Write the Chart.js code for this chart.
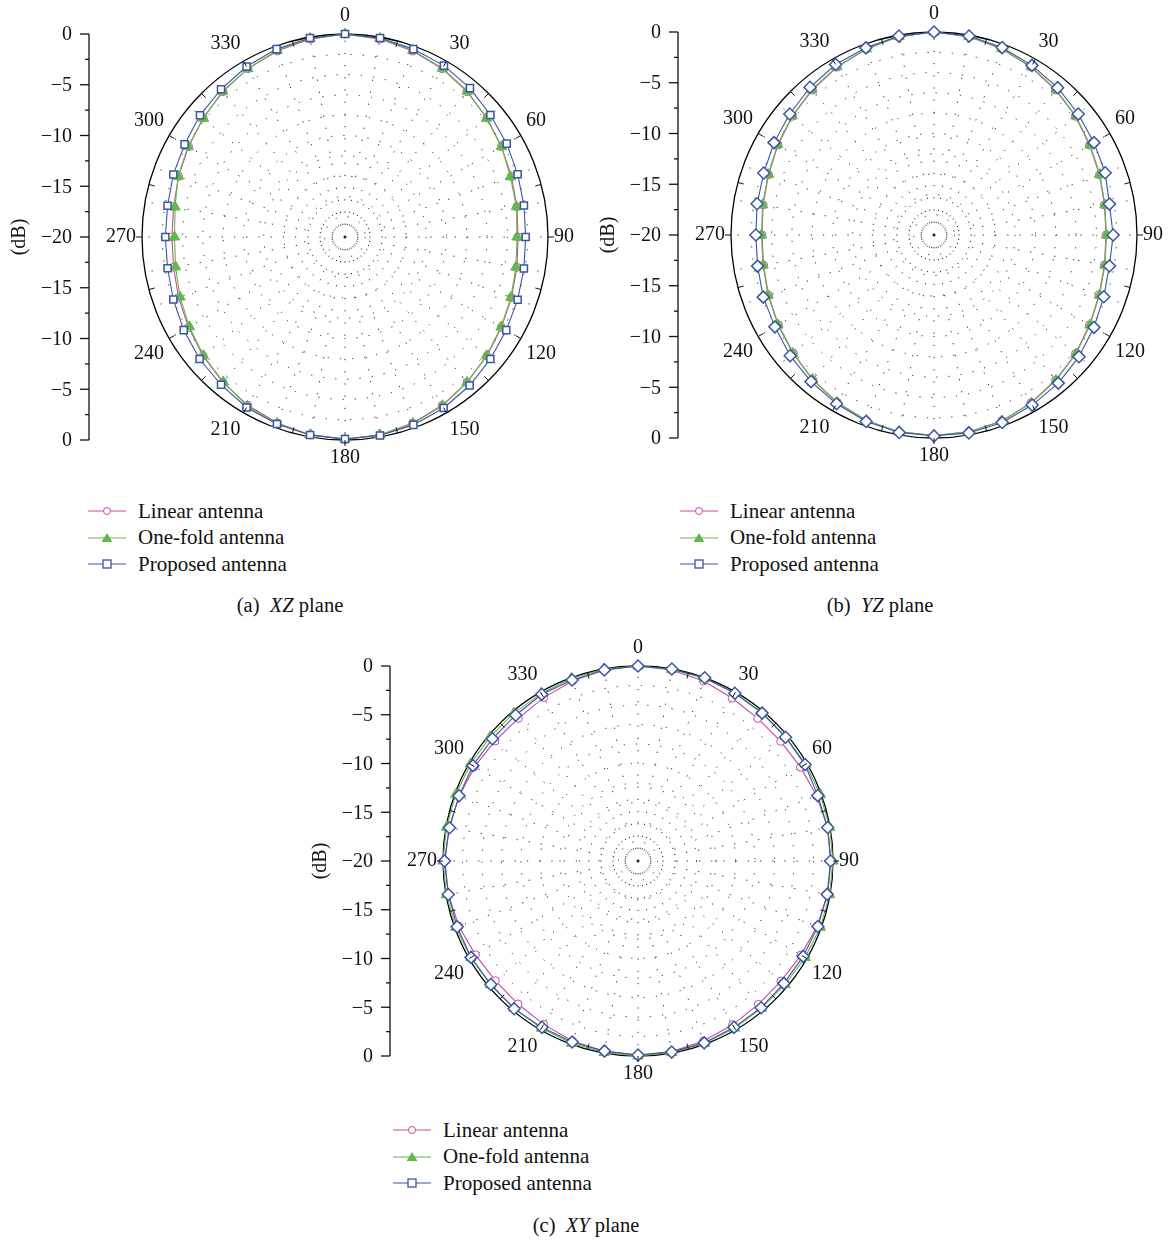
<!DOCTYPE html>
<html>
<head>
<meta charset="utf-8">
<script src="https://cdn.jsdelivr.net/npm/chart.js@4.4.0/dist/chart.umd.min.js"></script>
<style>
  body { margin:0; background:#fff; width:1168px; height:1242px; position:relative; overflow:hidden; font-family:"Liberation Serif", serif; color:#111; }
  canvas { position:absolute; }
  .legend { position:absolute; font-size:21px; }
  .legend div { height:26.5px; display:flex; align-items:center; }
  .legend svg { margin-right:12px; }
  .caption { position:absolute; font-size:20.5px; line-height:24px; transform:translateX(-50%); white-space:nowrap; }
</style>
</head>
<body>
<canvas id="xz" width="579" height="478" style="left:0px;top:-2px"></canvas>
<canvas id="yz" width="579" height="478" style="left:589px;top:-4px"></canvas>
<canvas id="xy" width="563" height="462" style="left:301px;top:630px"></canvas>
<div class="legend" id="legXZ" style="left:88px;top:498px"></div>
<div class="legend" id="legYZ" style="left:680px;top:498px"></div>
<div class="legend" id="legXY" style="left:393px;top:1117px"></div>
<div class="caption" style="left:290px;top:593px">(a)&nbsp;&nbsp;<i>XZ</i> plane</div>
<div class="caption" style="left:880px;top:593px">(b)&nbsp;&nbsp;<i>YZ</i> plane</div>
<div class="caption" style="left:586px;top:1213px">(c)&nbsp;&nbsp;<i>XY</i> plane</div>
<script>
// angles in degrees, one point every 10 degrees
const angles = ['0','10','20','30','40','50','60','70','80','90','100','110','120','130','140','150','160','170',
                '180','190','200','210','220','230','240','250','260','270','280','290','300','310','320','330','340','350'];
const shownAngles = ['0','30','60','90','120','150','180','210','240','270','300','330'];

const seriesNames = ['Linear antenna', 'One-fold antenna', 'Proposed antenna'];

// (a) XZ plane, dB
const xzLinear = [0, -0.2, -0.5, -0.85, -1.3, -1.75, -2.2, -2.55, -2.8, -2.95, -2.8, -2.55, -2.2, -1.75, -1.3, -0.85, -0.5, -0.2,
                  -0.05, -0.2, -0.5, -0.85, -1.3, -1.75, -2.2, -2.55, -2.85, -2.95, -2.85, -2.55, -2.2, -1.75, -1.3, -0.85, -0.5, -0.2];
const xzOneFold = [0, -0.15, -0.45, -0.8, -1.25, -1.8, -2.2, -2.65, -2.85, -3.05, -2.9, -2.6, -2.25, -1.8, -1.3, -0.8, -0.45, -0.2,
                   -0.1, -0.2, -0.45, -0.75, -1.35, -1.8, -2.3, -2.7, -3.05, -3.2, -3.0, -2.5, -2.15, -1.8, -1.25, -0.85, -0.45, -0.15];
const xzProposed = [0, -0.1, -0.3, -0.5, -0.85, -1.3, -1.6, -1.9, -2.1, -2.2, -2.1, -1.9, -1.65, -1.3, -0.9, -0.55, -0.3, -0.15,
                    -0.1, -0.2, -0.4, -0.6, -1.0, -1.3, -1.65, -2.0, -2.25, -2.3, -2.25, -2.0, -1.75, -1.35, -1.0, -0.6, -0.3, -0.1];

// (b) YZ plane, dB
const yzLinear = [0, -0.15, -0.5, -0.9, -1.35, -1.8, -2.3, -2.65, -2.95, -3.05, -2.95, -2.7, -2.3, -1.8, -1.35, -0.9, -0.5, -0.3,
                  -0.25, -0.3, -0.55, -0.95, -1.4, -1.9, -2.3, -2.65, -2.95, -3.05, -2.9, -2.65, -2.25, -1.8, -1.35, -0.9, -0.5, -0.15];
const yzOneFold = [0, -0.15, -0.45, -0.85, -1.3, -1.75, -2.25, -2.6, -2.9, -3.0, -2.9, -2.65, -2.25, -1.75, -1.3, -0.85, -0.5, -0.3,
                   -0.25, -0.3, -0.55, -0.95, -1.4, -1.85, -2.25, -2.6, -2.9, -3.0, -2.85, -2.6, -2.2, -1.75, -1.3, -0.85, -0.5, -0.15];
const yzProposed = [0, -0.1, -0.35, -0.7, -1.05, -1.45, -1.8, -2.05, -2.45, -2.35, -2.45, -2.2, -1.8, -1.35, -0.95, -0.65, -0.35, -0.2,
                    -0.2, -0.25, -0.45, -0.8, -1.15, -1.5, -1.9, -2.1, -2.35, -2.45, -2.3, -2.15, -1.8, -1.45, -1.0, -0.6, -0.38, -0.1];

// (c) XY plane, dB
const xyLinear = [0, -0.1, -0.35, -0.7, -0.9, -0.9, -0.75, -0.5, -0.25, -0.2, -0.25, -0.45, -0.7, -0.85, -0.8, -0.6, -0.35, -0.15,
                  -0.1, -0.15, -0.35, -0.65, -0.85, -0.9, -0.75, -0.45, -0.25, -0.2, -0.3, -0.5, -0.65, -0.85, -0.9, -0.65, -0.35, -0.1];
const xyOneFold = [0, -0.05, -0.05, -0.1, -0.15, -0.2, -0.15, -0.1, -0.05, 0, -0.05, -0.1, -0.2, -0.3, -0.3, -0.2, -0.1, -0.05,
                   0, -0.05, -0.1, -0.2, -0.25, -0.25, -0.2, -0.1, -0.05, 0, -0.05, -0.1, -0.15, -0.2, -0.2, -0.15, -0.05, 0];
const xyProposed = [0, 0, 0, -0.13, -0.2, -0.25, -0.22, -0.38, -0.25, -0.25, -0.3, -0.37, -0.43, -0.47, -0.36, -0.3, -0.15, -0.1,
                    -0.1, -0.2, -0.25, -0.3, -0.23, -0.3, -0.23, -0.26, -0.24, -0.15, -0.37, -0.46, -0.44, -0.5, -0.48, -0.26, -0.24, -0.1];

// side axis ticks (dB)
const axisMajor = [0, -5, -10, -15, -20];
const axisLabels = ['0', '\u22125', '\u221210', '\u221215', '\u221220'];
const axisMinor = [-2.5, -7.5, -12.5, -17.5];

const pink = '#c74aa0', green = '#62b84a', blue = '#3b54a5';
const serif = '"Liberation Serif", serif';

const sideAxis = {
  id: 'sideAxis',
  afterDraw(chart) {
    const r = chart.scales.r;
    const ctx = chart.ctx;
    const xc = r.xCenter, yc = r.yCenter, R = r.drawingArea;
    const ax = xc - R - 53;
    ctx.save();
    ctx.strokeStyle = '#111';
    ctx.lineWidth = 1.3;
    ctx.beginPath();
    ctx.moveTo(ax, yc - R);
    ctx.lineTo(ax, yc + R);
    ctx.stroke();
    ctx.font = '20px ' + serif;
    ctx.fillStyle = '#111';
    ctx.textAlign = 'right';
    ctx.textBaseline = 'middle';
    axisMinor.forEach(v => {
      const d = r.getDistanceFromCenterForValue(v);
      [-1, 1].forEach(s => {
        ctx.beginPath(); ctx.moveTo(ax - 4, yc + s * d); ctx.lineTo(ax, yc + s * d); ctx.stroke();
      });
    });
    axisMajor.forEach((v, i) => {
      const d = r.getDistanceFromCenterForValue(v);
      const sides = d === 0 ? [1] : [-1, 1];
      sides.forEach(s => {
        const y = yc + s * d;
        ctx.beginPath(); ctx.moveTo(ax - 9, y); ctx.lineTo(ax, y); ctx.stroke();
        ctx.fillText(axisLabels[i], ax - 17, y + 1);
      });
    });
    // axis title
    ctx.save();
    ctx.translate(ax - 69, yc);
    ctx.rotate(-Math.PI / 2);
    ctx.textAlign = 'center';
    ctx.fillText('(dB)', 0, 0);
    ctx.restore();
    // small ticks on the outer circle every 15 degrees
    ctx.lineWidth = 1;
    for (let deg = 15; deg < 360; deg += 15) {
      const a = deg * Math.PI / 180 - Math.PI / 2;
      const outward = deg % 90 === 0;
      const r0 = outward ? R : R - 6, r1 = outward ? R + 6 : R;
      ctx.beginPath();
      ctx.moveTo(xc + Math.cos(a) * r0, yc + Math.sin(a) * r0);
      ctx.lineTo(xc + Math.cos(a) * r1, yc + Math.sin(a) * r1);
      ctx.stroke();
    }
    ctx.restore();
  }
};

function makeChart(id, linear, oneFold, proposed, propStyle) {
  const base = { fill: false, tension: 0, borderWidth: 1.1 };
  new Chart(document.getElementById(id), {
    type: 'radar',
    data: {
      labels: angles,
      datasets: [
        Object.assign({}, base, { label: seriesNames[0], data: linear, order: 3, borderColor: pink,
          pointStyle: 'circle', pointRadius: 4, pointBackgroundColor: '#fff', pointBorderColor: pink, pointBorderWidth: 1 }),
        Object.assign({}, base, { label: seriesNames[1], data: oneFold, order: 2, borderColor: green,
          pointStyle: 'triangle', pointRadius: 6, pointBackgroundColor: green, pointBorderColor: green, pointBorderWidth: 1 }),
        Object.assign({}, base, { label: seriesNames[2], data: proposed, order: 1, borderColor: blue,
          pointStyle: propStyle, pointRadius: propStyle === 'rect' ? 5 : 6, pointBackgroundColor: '#fff', pointBorderColor: blue, pointBorderWidth: 1.5 })
      ]
    },
    options: {
      responsive: false,
      animation: false,
      layout: { padding: { left: 101 } },
      plugins: { legend: { display: false }, tooltip: { enabled: false } },
      scales: {
        r: {
          min: -20,
          max: 0,
          ticks: { display: false, stepSize: 2 },
          grid: {
            circular: true,
            color: c => c.tick && c.tick.value === 0 ? '#000' : '#222',
            lineWidth: c => c.tick && c.tick.value === 0 ? 1.3 : 1
          },
          border: { dash: c => c.tick && c.tick.value === 0 ? [] : [1.2, 11] },
          angleLines: { color: '#222', lineWidth: 1, borderDash: [1.2, 11] },
          pointLabels: {
            padding: 6,
            color: '#111',
            font: { family: serif, size: 20 },
            callback: label => shownAngles.includes(label) ? label : ''
          }
        }
      }
    },
    plugins: [sideAxis]
  });
}

makeChart('xz', xzLinear, xzOneFold, xzProposed, 'rect');
makeChart('yz', yzLinear, yzOneFold, yzProposed, 'rectRot');
makeChart('xy', xyLinear, xyOneFold, xyProposed, 'rectRot');

// HTML legends
function legend(id) {
  const marks = [
    '<circle cx="19" cy="7" r="3.5" fill="#fff" stroke="' + pink + '" stroke-width="1"/>',
    '<polygon points="19,2 24.5,11 13.5,11" fill="' + green + '"/>',
    '<rect x="15" y="3" width="8" height="8" fill="#fff" stroke="' + blue + '" stroke-width="1.3"/>'
  ];
  const colors = [pink, green, blue];
  document.getElementById(id).innerHTML = seriesNames.map((n, i) =>
    '<div><svg width="38" height="14"><line x1="0" y1="7" x2="38" y2="7" stroke="' + colors[i] + '" stroke-width="1.2"/>' +
    marks[i] + '</svg><span>' + n + '</span></div>').join('');
}
legend('legXZ');
legend('legYZ');
legend('legXY');
</script>
</body>
</html>
